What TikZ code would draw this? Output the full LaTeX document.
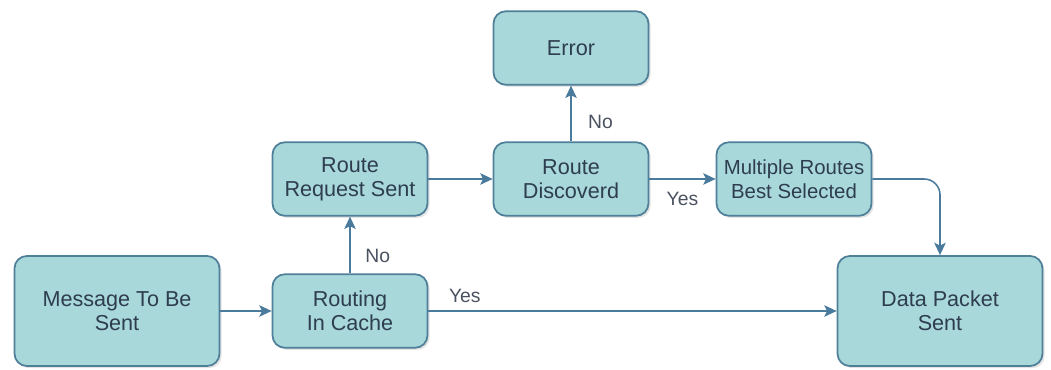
\documentclass[tikz,border=0pt]{standalone}
\usepackage{fontspec}
\setmainfont{Liberation Sans}
\usepackage{xcolor}
\usepackage{tikz}
\usetikzlibrary{arrows.meta, shadows}
\definecolor{boxfill}{HTML}{A8D8DA}
\definecolor{boxline}{HTML}{4F8099}
\definecolor{edgeline}{HTML}{4A7B9D}
\definecolor{boxtext}{HTML}{2E3D4F}
\definecolor{labeltext}{HTML}{4A5260}
\tikzstyle{box} = [rectangle, rounded corners=7pt, draw=boxline, line width=1pt, fill=boxfill, text=boxtext, align=center, font=\fontsize{12.3}{13.7}\selectfont, drop shadow={opacity=0.22, shadow xshift=1.2pt, shadow yshift=-1.2pt}]
\tikzstyle{arrow} = [draw=edgeline, line width=0.9pt, -{Stealth[length=7pt, width=6.5pt, inset=1.5pt]}]

\begin{document}
\begin{tikzpicture}[x=0.02cm, y=-0.02cm,
    small/.style={minimum width=3.1cm, minimum height=1.47cm},
    big/.style={minimum width=4.1cm, minimum height=2.2cm},
    lbl/.style={text=labeltext, font=\fontsize{11}{12}\selectfont}]
    \useasboundingbox (0,0) rectangle (1051,369);
    \node[box, big] (msg) at (117,311) {Message To Be\\Sent};
    \node[box, small] (cache) at (350,311) {Routing\\In Cache};
    \node[box, small] (req) at (350,179) {Route\\Request Sent};
    \node[box, small] (disc) at (571,179) {Route\\Discoverd};
    \node[box, small] (err) at (571,48) {Error};
    \node[box, small, font=\fontsize{11.6}{13.7}\selectfont] (multi) at (794,179) {Multiple Routes\\Best Selected};
    \node[box, big] (data) at (940,311) {Data Packet\\Sent};
    % connectors
    \draw[arrow] (msg) -- (cache);
    \draw[arrow] (cache) -- node[lbl, pos=0.03, above right=1pt] {Yes} (data);
    \draw[arrow] (cache) -- node[lbl, pos=0.3, right=5pt] {No} (req);
    \draw[arrow] (req) -- (disc);
    \draw[arrow] (disc) -- node[lbl, pos=0.35, right=6pt] {No} (err);
    \draw[arrow] (disc) -- node[lbl, pos=0.5, below=4pt] {Yes} (multi);
    \draw[arrow, rounded corners=9pt] (multi.east) -| (data.north);
\end{tikzpicture}
\end{document}
